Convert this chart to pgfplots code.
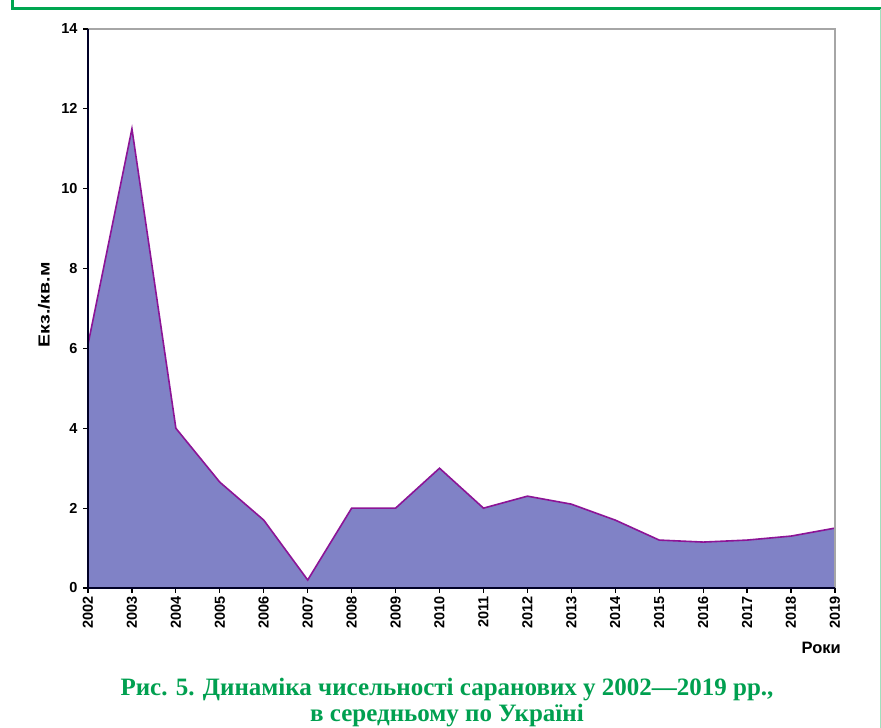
\documentclass[border=0pt]{standalone}
\usepackage{fontspec}
\setmainfont{Liberation Serif}
\newfontfamily\sans{Liberation Sans}
\usepackage{pgfplots}
\pgfplotsset{compat=1.18}
\definecolor{framegreen}{RGB}{0,166,80}
\definecolor{lightgreen}{RGB}{160,225,190}
\definecolor{areafill}{RGB}{128,130,198}
\definecolor{linecol}{RGB}{140,20,150}
\definecolor{capgreen}{RGB}{0,160,80}
\begin{document}
\begin{tikzpicture}[x=1pt,y=1pt]
\useasboundingbox (0,0) rectangle (881,728);
\fill[white] (0,0) rectangle (881,728);
\draw[framegreen, line width=3pt] (12,728) -- (12,719) -- (881,719);
\draw[lightgreen, line width=1pt] (880,719) -- (880,0);
\begin{axis}[
  at={(88pt,140pt)}, anchor=south west,
  scale only axis, width=747pt, height=559pt,
  xmin=2002, xmax=2019, ymin=0, ymax=14,
  xtick={2002,...,2019}, ytick={0,2,...,14},
  /pgf/number format/1000 sep={},
  /pgf/number format/assume math mode=true,
  tick label style={font=\sans\bfseries\fontsize{14.5}{16}\selectfont},
  xticklabel style={rotate=90, anchor=east, xshift=0pt},
  yticklabel style={xshift=-2pt},
  tick align=outside, tick pos=left,
  major tick length=5pt,
  tick style={black, line width=1.2pt},
  axis line style={draw=none},
  clip=false,
]
\addplot[fill=areafill, draw=none] coordinates {
(2002,6.1) (2003,11.5) (2004,4.0) (2005,2.65) (2006,1.7) (2007,0.2) (2008,2.0) (2009,2.0) (2010,3.0) (2011,2.0) (2012,2.3) (2013,2.1) (2014,1.7) (2015,1.2) (2016,1.15) (2017,1.2) (2018,1.3) (2019,1.5)} \closedcycle;
\addplot[draw=linecol, line width=1.6pt] coordinates {
(2002,6.1) (2003,11.5) (2004,4.0) (2005,2.65) (2006,1.7) (2007,0.2) (2008,2.0) (2009,2.0) (2010,3.0) (2011,2.0) (2012,2.3) (2013,2.1) (2014,1.7) (2015,1.2) (2016,1.15) (2017,1.2) (2018,1.3) (2019,1.5)};
\draw[gray!70, line width=1.2pt] (axis cs:2002,14) -- (axis cs:2019,14) -- (axis cs:2019,0);
\draw[black!85!blue, line width=2pt] (axis cs:2002,14) -- (axis cs:2002,0) -- (axis cs:2019,0);
\end{axis}
\node[anchor=base east, inner sep=0pt, font=\sans\bfseries\fontsize{16.5}{18}\selectfont] at (841,74) {Роки};
\node[rotate=90, inner sep=0pt, font=\sans\bfseries\fontsize{16}{18}\selectfont] at (44,423) {\scalebox{1.22}[1]{Екз./кв.м}};
\node[anchor=base, inner sep=0pt, text=capgreen, font=\bfseries\fontsize{25}{25}\selectfont] at (447,32)
  {Рис. 5. Динаміка чисельності саранових у 2002—2019 рр.,};
\node[anchor=base, inner sep=0pt, text=capgreen, font=\bfseries\fontsize{25}{25}\selectfont] at (447,6.5)
  {в середньому по Україні};
\end{tikzpicture}
\end{document}
